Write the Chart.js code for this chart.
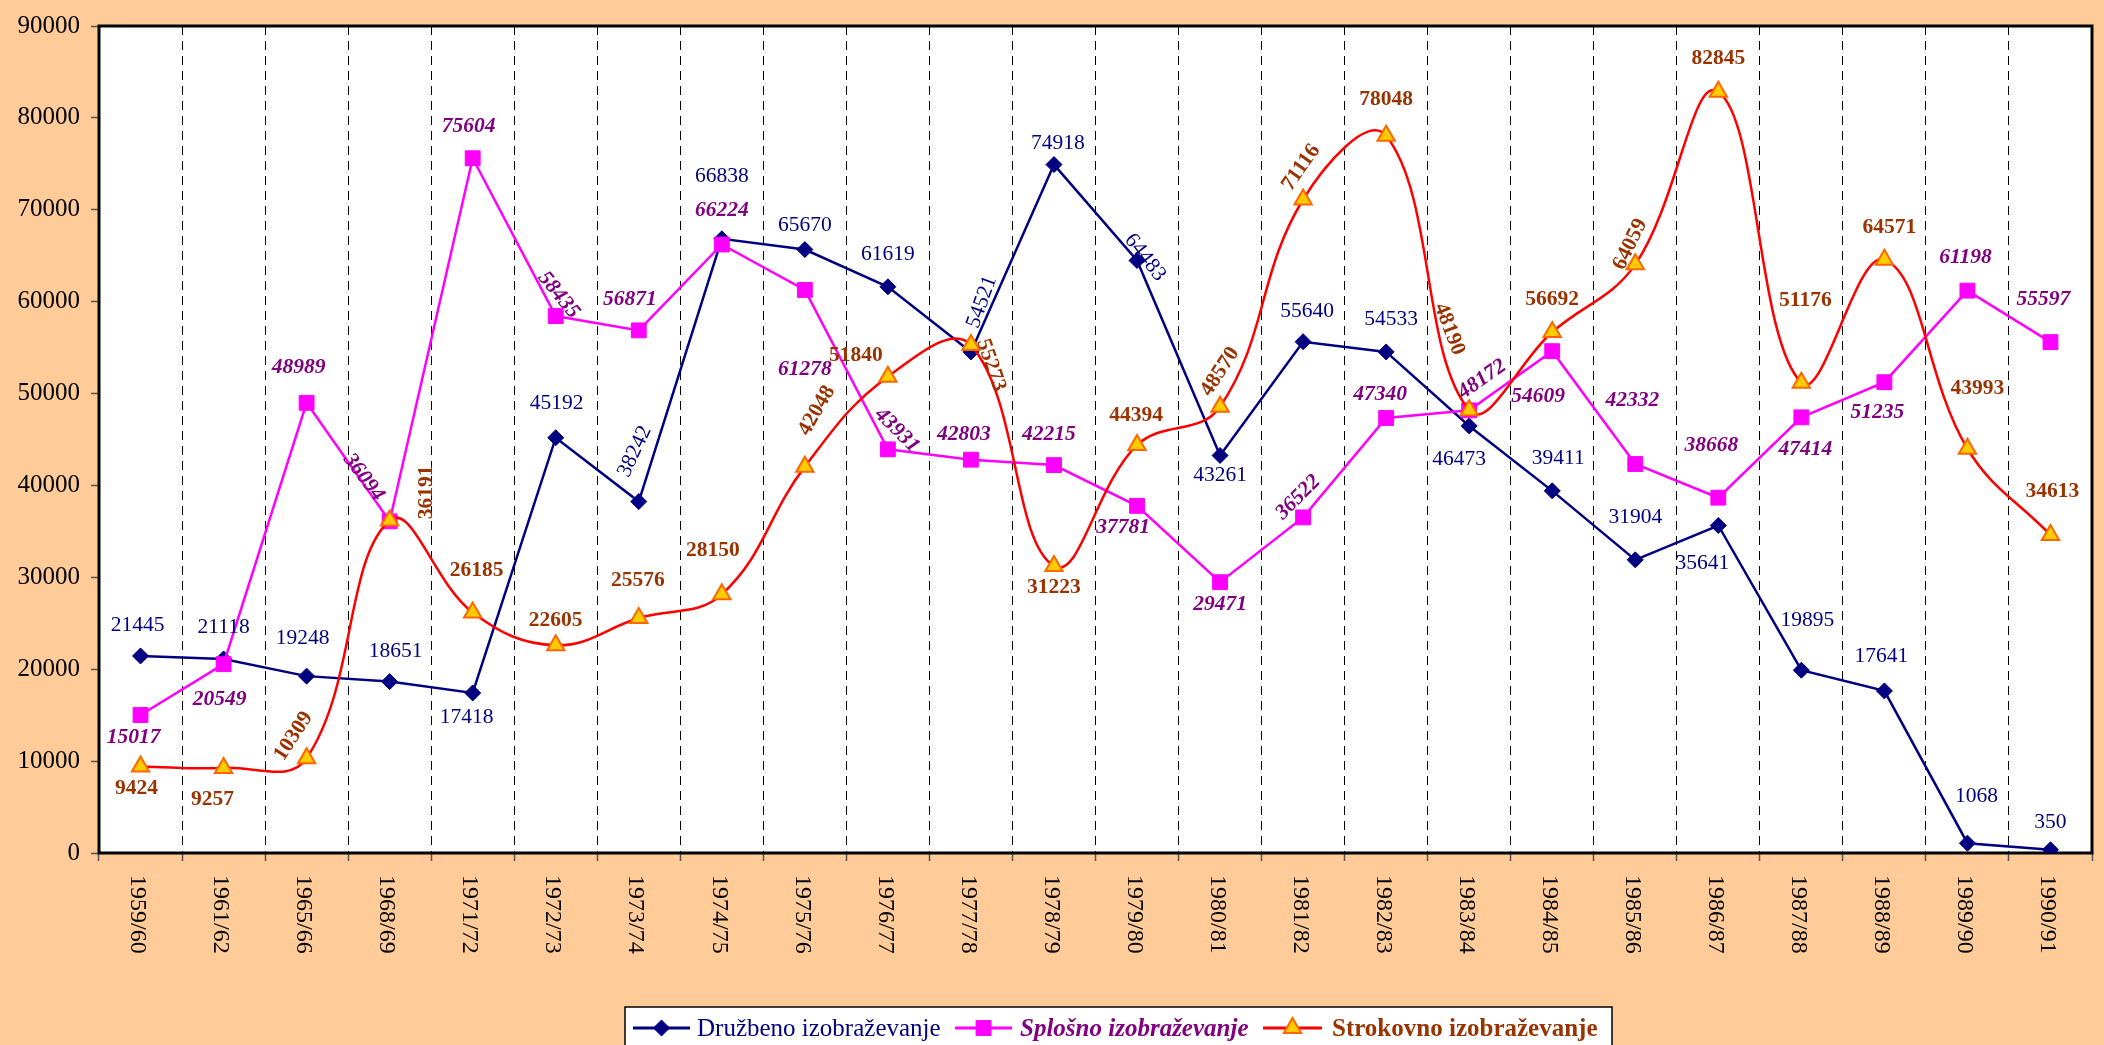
<!DOCTYPE html>
<html>
<head>
<meta charset="utf-8">
<title>Izobraževanje 1959/60 - 1990/91</title>
<script src="https://cdn.jsdelivr.net/npm/chart.js@4.4.1/dist/chart.umd.min.js"></script>
<style>
  html, body { margin: 0; padding: 0; background: #FFCC99; }
  #wrap { width: 2104px; height: 1045px; position: relative; }
</style>
</head>
<body>
<div id="wrap"><canvas id="chart"></canvas></div>
<script>
// ======================= DATA =======================

const years = ['1959/60', '1961/62', '1965/66', '1968/69', '1971/72', '1972/73', '1973/74', '1974/75',
    '1975/76', '1976/77', '1977/78', '1978/79', '1979/80', '1980/81', '1981/82', '1982/83',
    '1983/84', '1984/85', '1985/86', '1986/87', '1987/88', '1988/89', '1989/90', '1990/91'];

const druzbeno = [21445, 21118, 19248, 18651, 17418, 45192, 38242, 66838, 65670, 61619, 54521, 74918,
    64483, 43261, 55640, 54533, 46473, 39411, 31904, 35641, 19895, 17641, 1068, 350];

const splosno = [15017, 20549, 48989, 36094, 75604, 58435, 56871, 66224, 61278, 43931, 42803, 42215,
    37781, 29471, 36522, 47340, 48172, 54609, 42332, 38668, 47414, 51235, 61198, 55597];

const strokovno = [9424, 9257, 10309, 36191, 26185, 22605, 25576, 28150, 42048, 51840, 55273, 31223,
    44394, 48570, 71116, 78048, 48190, 56692, 64059, 82845, 51176, 64571, 43993, 34613];

const yTicks = [0, 10000, 20000, 30000, 40000, 50000, 60000, 70000, 80000, 90000];


// ======================= LABEL PLACEMENT =======================
// offset from the point [dx, dy] in px and rotation in degrees

const placeDruzbeno = [
    [-3, -31, 0], [0, -32, 0], [-4, -38, 0], [6, -30, 0], [-6, 24, 0], [1, -34, 0],
    [-4, -50, -65], [0, -62, 0], [0, -24, 0], [0, -32, 0], [11, -50, -70], [4, -21, 0],
    [8, -3, 52], [0, 20, 0], [4, -30, 0], [5, -33, 0], [-10, 33, 0], [6, -32, 0],
    [0, -42, 0], [-16, 38, 0], [6, -50, 0], [-3, -35, 0], [9, -47, 0], [0, -27, 0]
];

const placeSplosno = [
    [-7, 22, 0], [-4, 35, 0], [-8, -35, 0], [-26, -44, 53], [-4, -32, 0], [3, -21, 51],
    [-9, -31, 0], [0, -34, 0], [0, 80, 0], [9, -19, 45], [-7, -25, 0], [-5, -31, 0],
    [-14, 22, 0], [0, 22, 0], [-5, -20, -45], [-6, -24, 0], [13, -31, -35], [-14, 45, 0],
    [-3, -64, 0], [-7, -52, 0], [4, 32, 0], [-7, 30, 0], [-2, -33, 0], [-7, -43, 0]
];

const placeStrokovno = [
    [-4, 22, 0], [-11, 32, 0], [-13, -22, -57], [37, -28, -90], [4, -42, 0], [0, -25, 0],
    [-1, -38, 0], [-9, -44, 0], [12, -56, -60], [-32, -21, 0], [20, 20, 71], [0, 21, 0],
    [-1, -30, 0], [0, -35, -57], [-2, -32, -55], [0, -36, 0], [-20, -81, 69], [0, -33, 0],
    [-5, -20, -64], [0, -33, 0], [4, -82, 0], [5, -32, 0], [10, -60, 0], [2, -43, 0]
];

const SERIF = '"Liberation Serif", "Times New Roman", serif';

const labelStyles = [
    { place: placeDruzbeno, font: '21.5px ' + SERIF, color: '#000080' },
    { place: placeSplosno, font: 'italic bold 21.5px ' + SERIF, color: '#800080' },
    { place: placeStrokovno, font: 'bold 21.5px ' + SERIF, color: '#993300' }
];


// ======================= PLUGINS =======================

// peach page, white plot area
const backgroundPlugin = {
    id: 'background',
    beforeDraw(chart) {
        const { ctx, chartArea: a } = chart;
        ctx.save();
        ctx.fillStyle = '#FFCC99';
        ctx.fillRect(0, 0, chart.width, chart.height);
        ctx.fillStyle = '#FFFFFF';
        ctx.fillRect(a.left, a.top, a.right - a.left, a.bottom - a.top);
        ctx.restore();
    },
    beforeDatasetsDraw(chart) {
        const { ctx, chartArea: a } = chart;
        ctx.save();
        ctx.strokeStyle = '#000';
        ctx.lineWidth = 3;
        ctx.strokeRect(a.left, a.top, a.right - a.left, a.bottom - a.top);
        ctx.restore();
    }
};

// value labels next to every point
const valueLabelsPlugin = {
    id: 'valueLabels',
    afterDatasetsDraw(chart) {
        const ctx = chart.ctx;
        chart.data.datasets.forEach((ds, di) => {
            const st = labelStyles[di];
            const meta = chart.getDatasetMeta(di);
            ctx.save();
            ctx.font = st.font;
            ctx.fillStyle = st.color;
            ctx.textAlign = 'center';
            ctx.textBaseline = 'middle';
            meta.data.forEach((pt, i) => {
                const [dx, dy, rot] = st.place[i];
                ctx.save();
                ctx.translate(pt.x + dx, pt.y + dy);
                ctx.rotate(rot * Math.PI / 180);
                ctx.fillText(String(ds.data[i]), 0, 0);
                ctx.restore();
            });
            ctx.restore();
        });
    }
};

// category labels, turned to read from top to bottom
const xLabelsPlugin = {
    id: 'xLabels',
    afterDraw(chart) {
        const ctx = chart.ctx;
        const xs = chart.scales.x;
        ctx.save();
        ctx.font = '24px ' + SERIF;
        ctx.fillStyle = '#000';
        ctx.textAlign = 'left';
        ctx.textBaseline = 'middle';
        years.forEach((lab, i) => {
            ctx.save();
            ctx.translate(xs.getPixelForValue(i) - 3, xs.top + 22);
            ctx.rotate(Math.PI / 2);
            ctx.fillText(lab, 0, 0);
            ctx.restore();
        });
        ctx.restore();
    }
};

function marker(ctx, style, radius, x, y) {
    Chart.helpers.drawPoint(ctx, { pointStyle: style, radius: radius, rotation: 0, borderWidth: ctx.lineWidth }, x, y);
}

// legend box at the bottom, each entry in its own text style
const legendPlugin = {
    id: 'customLegend',
    afterDraw(chart) {
        const ctx = chart.ctx;
        const ly = 1028;
        ctx.save();
        ctx.fillStyle = '#FFFFFF';
        ctx.strokeStyle = '#000';
        ctx.lineWidth = 1.5;
        ctx.fillRect(625, 1007, 987, 50);
        ctx.strokeRect(625, 1007, 987, 50);

        const items = [
            { x0: 633, x1: 690, tx: 697, line: '#000080', fill: '#000080', edge: '#000080', style: 'rectRot', r: 8,
              font: '25px ' + SERIF, color: '#000080', text: 'Družbeno izobraževanje' },
            { x0: 955, x1: 1012, tx: 1020, line: '#FF00FF', fill: '#FF00FF', edge: '#FF00FF', style: 'rect', r: 10.5,
              font: 'italic bold 25px ' + SERIF, color: '#800080', text: 'Splošno izobraževanje' },
            { x0: 1263, x1: 1322, tx: 1332, line: '#FF0000', fill: '#FFCC00', edge: '#FF6600', style: 'triangle', r: 10,
              font: 'bold 25px ' + SERIF, color: '#993300', text: 'Strokovno izobraževanje' }
        ];

        items.forEach(it => {
            ctx.strokeStyle = it.line;
            ctx.lineWidth = 3;
            ctx.beginPath();
            ctx.moveTo(it.x0, ly);
            ctx.lineTo(it.x1, ly);
            ctx.stroke();
            ctx.fillStyle = it.fill;
            ctx.strokeStyle = it.edge;
            ctx.lineWidth = it.style === 'triangle' ? 2 : 1;
            marker(ctx, it.style, it.r, (it.x0 + it.x1) / 2, ly);
            ctx.font = it.font;
            ctx.fillStyle = it.color;
            ctx.textAlign = 'left';
            ctx.textBaseline = 'alphabetic';
            ctx.fillText(it.text, it.tx, 1036);
        });
        ctx.restore();
    }
};


// ======================= CHART =======================

const ctx = document.getElementById('chart').getContext('2d');

new Chart(ctx, {
    type: 'line',
    data: {
        labels: years,
        datasets: [
            {
                label: 'Družbeno izobraževanje',
                data: druzbeno,
                borderColor: '#000080',
                backgroundColor: '#000080',
                borderWidth: 2.5,
                pointStyle: 'rectRot',
                pointRadius: 8,
                pointBorderWidth: 1,
                pointBackgroundColor: '#000080',
                pointBorderColor: '#000080',
                tension: 0,
                order: 3
            },
            {
                label: 'Splošno izobraževanje',
                data: splosno,
                borderColor: '#FF00FF',
                backgroundColor: '#FF00FF',
                borderWidth: 2.5,
                pointStyle: 'rect',
                pointRadius: 10.5,
                pointBorderWidth: 1,
                pointBackgroundColor: '#FF00FF',
                pointBorderColor: '#FF00FF',
                tension: 0,
                order: 2
            },
            {
                label: 'Strokovno izobraževanje',
                data: strokovno,
                borderColor: '#FF0000',
                backgroundColor: '#FFCC00',
                borderWidth: 2.5,
                pointStyle: 'triangle',
                pointRadius: 10,
                pointBorderWidth: 2,
                pointBackgroundColor: '#FFCC00',
                pointBorderColor: '#FF6600',
                tension: 0.4,
                order: 1
            }
        ]
    },
    options: {
        responsive: true,
        maintainAspectRatio: false,
        animation: false,
        events: [],
        layout: {
            padding: { top: 22, right: 3, left: 0, bottom: 0 }
        },
        plugins: {
            legend: { display: false },
            tooltip: { enabled: false }
        },
        scales: {
            x: {
                offset: true,
                grid: {
                    offset: true,
                    color: '#000',
                    lineWidth: 1,
                    drawTicks: true,
                    tickLength: 8,
                    tickColor: '#555',
                    tickWidth: 1.5
                },
                border: { display: false, dash: [9, 6] },
                ticks: { display: false },
                afterFit(scale) { scale.height = 192; }
            },
            y: {
                min: 0,
                max: 90000,
                afterBuildTicks(scale) { scale.ticks = yTicks.map(v => ({ value: v })); },
                grid: {
                    drawOnChartArea: false,
                    drawTicks: true,
                    tickLength: 8,
                    tickColor: '#555',
                    tickWidth: 1.5
                },
                border: { display: false },
                ticks: {
                    color: '#000',
                    padding: 11,
                    font: { family: SERIF, size: 25 },
                    callback: v => String(v)
                },
                afterFit(scale) { scale.width = 99; }
            }
        }
    },
    plugins: [backgroundPlugin, valueLabelsPlugin, xLabelsPlugin, legendPlugin]
});
</script>
</body>
</html>
